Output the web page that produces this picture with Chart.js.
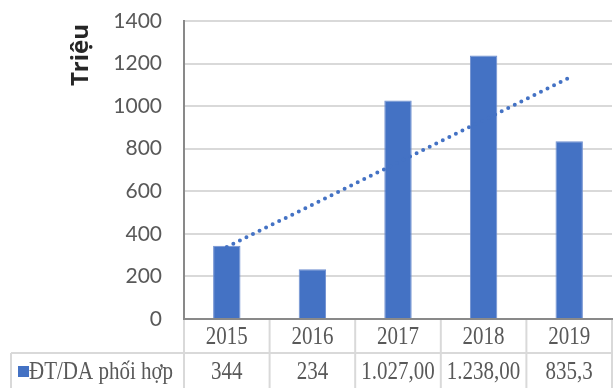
<!DOCTYPE html>
<html>
<head>
<meta charset="utf-8">
<script src="https://cdn.jsdelivr.net/npm/chart.js@4"></script>
<style>
  html, body { margin: 0; padding: 0; background: #fff; }
  #wrap { width: 615px; height: 388px; }
</style>
</head>
<body>
<div id="wrap"><canvas id="chart" width="615" height="388"></canvas></div>
<script>
// ============================
// DATA
// ============================
const years = ["2015", "2016", "2017", "2018", "2019"];
const values = [344, 234, 1027, 1238, 835.3];
const tableLabels = ["344", "234", "1.027,00", "1.238,00", "835,3"];
const seriesName = "ĐT/DA phối hợp";
const yTicks = [0, 200, 400, 600, 800, 1000, 1200, 1400];

// linear trendline (least squares, like Excel)
const n = values.length;
const mx = (n + 1) / 2;
const my = values.reduce((a, b) => a + b, 0) / n;
let sxy = 0, sxx = 0;
values.forEach((v, i) => { sxy += (i + 1 - mx) * (v - my); sxx += (i + 1 - mx) ** 2; });
const slope = sxy / sxx;
const trend = values.map((v, i) => my + slope * (i + 1 - mx));

const BLUE = "#4472C4";
const GRID = "#d9d9d9";
const TEXT = "#595959";

// ============================
// TABLE + AXIS TITLE PLUGIN
// ============================
const tablePlugin = {
  id: "dataTable",
  afterDraw(chart) {
    const { ctx, chartArea, scales } = chart;
    const x = scales.x;
    const top = chartArea.bottom;
    const rowY = 353;
    const bottom = 388;
    const left = 11;

    ctx.save();
    ctx.strokeStyle = GRID;
    ctx.lineWidth = 2;
    // vertical separators
    for (let i = 0; i <= years.length; i++) {
      const px = i === 0 ? chartArea.left : i === years.length ? chartArea.right
        : (x.getPixelForValue(i - 1) + x.getPixelForValue(i)) / 2;
      ctx.beginPath();
      ctx.moveTo(px, top + 1);
      ctx.lineTo(px, bottom);
      ctx.stroke();
    }
    // horizontal row line + left border
    ctx.beginPath();
    ctx.moveTo(left, rowY);
    ctx.lineTo(chartArea.right, rowY);
    ctx.moveTo(left, rowY);
    ctx.lineTo(left, bottom);
    ctx.stroke();

    // texts (slightly stretched vertically like the original)
    ctx.fillStyle = TEXT;
    ctx.font = "21px 'Liberation Serif', 'Times New Roman', serif";
    ctx.textAlign = "center";
    ctx.textBaseline = "middle";
    const sy = 1.15;
    const drawText = (t, px, py) => {
      ctx.save();
      ctx.translate(px, py);
      ctx.scale(1, sy);
      ctx.fillText(t, 0, 0);
      ctx.restore();
    };
    years.forEach((yr, i) => {
      const cx = x.getPixelForValue(i);
      drawText(yr, cx, 338);
      drawText(tableLabels[i], cx, 373);
    });

    // legend key + series name
    ctx.fillStyle = BLUE;
    ctx.fillRect(18, 366, 11, 11);
    ctx.fillStyle = TEXT;
    ctx.textAlign = "left";
    drawText(seriesName, 29, 373);

    // y axis title
    ctx.translate(81, 55);
    ctx.rotate(-Math.PI / 2);
    ctx.textAlign = "center";
    ctx.fillStyle = "#262626";
    ctx.font = "bold 24px 'Open Sans', sans-serif";
    ctx.fillText("Triệu", 0, 0);
    ctx.restore();
  }
};

// ============================
// CHART
// ============================
const ctx = document.getElementById("chart").getContext("2d");
new Chart(ctx, {
  data: {
    labels: years,
    datasets: [
      {
        type: "line",
        data: trend,
        borderColor: BLUE,
        borderWidth: 4,
        borderDash: [0, 7.3],
        borderCapStyle: "round",
        pointRadius: 0,
        fill: false,
        order: 0
      },
      {
        type: "bar",
        data: values,
        backgroundColor: BLUE,
        borderColor: "#6f8fd0",
        borderWidth: 1,
        categoryPercentage: 1,
        barPercentage: 0.32,
        order: 1
      }
    ]
  },
  options: {
    responsive: false,
    animation: false,
    layout: { padding: { top: 21, right: 3, left: 0, bottom: 0 } },
    plugins: { legend: { display: false }, tooltip: { enabled: false } },
    scales: {
      x: {
        grid: { display: false },
        border: { color: "#898989", width: 2 },
        ticks: { display: false },
        afterFit: s => { s.height = 69; s.paddingLeft = 0; s.paddingRight = 0; }
      },
      y: {
        min: 0,
        max: 1400,
        afterBuildTicks: s => { s.ticks = yTicks.map(v => ({ value: v })); },
        grid: { color: GRID, lineWidth: 2, drawTicks: false },
        border: { color: "#898989", width: 2 },
        ticks: {
          color: TEXT,
          padding: 22,
          font: { family: "Lato, 'Open Sans', sans-serif", size: 21 },
          callback: v => String(v)
        },
        afterFit: s => { s.width = 184; s.paddingTop = 0; s.paddingBottom = 0; }
      }
    }
  },
  plugins: [tablePlugin]
});
</script>
</body>
</html>
